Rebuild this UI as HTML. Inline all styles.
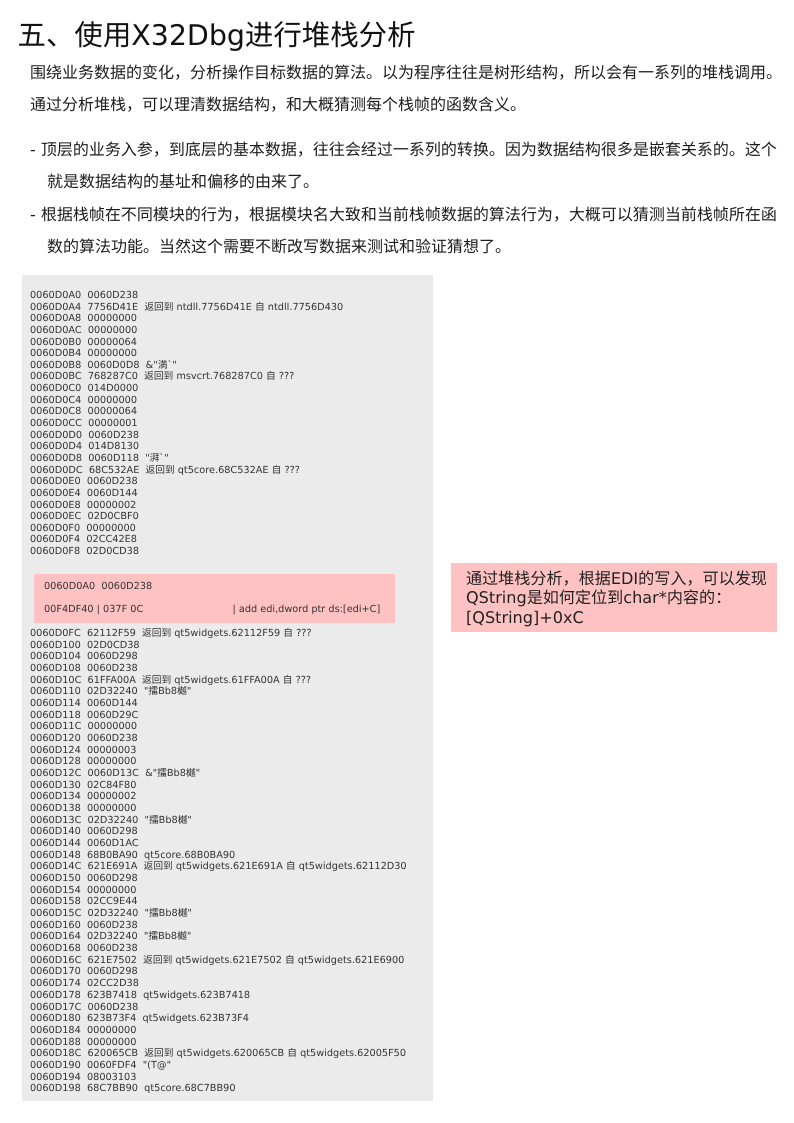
<!DOCTYPE html>
<html lang="zh"><head><meta charset="utf-8">
<style>
html,body{margin:0;padding:0;background:#fff;}
#p{position:relative;width:794px;height:1123px;overflow:hidden;font-family:"DejaVu Sans","WenQuanYi Zen Hei","Noto Sans CJK SC",sans-serif;color:#222;text-rendering:geometricPrecision;}
.a{position:absolute;white-space:pre;}
.b{font-size:16px;line-height:20px;color:#1c1c1c;}
.s{font-size:9.72px;color:#333;filter:blur(.25px);}
</style></head><body><div id="p">
<div class="a" style="left:17.5px;top:15.5px;font-size:28.45px;line-height:40px;color:#111;">五、使用X32Dbg进行堆栈分析</div>
<div class="a b" style="left:30px;top:63px;">围绕业务数据的变化，分析操作目标数据的算法。以为程序往往是树形结构，所以会有一系列的堆栈调用。</div>
<div class="a b" style="left:30px;top:95px;">通过分析堆栈，可以理清数据结构，和大概猜测每个栈帧的函数含义。</div>
<div class="a b" style="left:30px;top:140px;">- 顶层的业务入参，到底层的基本数据，往往会经过一系列的转换。因为数据结构很多是嵌套关系的。这个</div>
<div class="a b" style="left:47px;top:172px;">就是数据结构的基址和偏移的由来了。</div>
<div class="a b" style="left:30px;top:205px;">- 根据栈帧在不同模块的行为，根据模块名大致和当前栈帧数据的算法行为，大概可以猜测当前栈帧所在函</div>
<div class="a b" style="left:47px;top:237px;">数的算法功能。当然这个需要不断改写数据来测试和验证猜想了。</div>

<div class="a" style="left:22px;top:275px;width:411px;height:826px;background:#ebebeb;"></div>
<div class="a s" style="left:30px;top:290px;line-height:11.64px;">0060D0A0  0060D238
0060D0A4  7756D41E  返回到 ntdll.7756D41E 自 ntdll.7756D430
0060D0A8  00000000
0060D0AC  00000000
0060D0B0  00000064
0060D0B4  00000000
0060D0B8  0060D0D8  &amp;"満`"
0060D0BC  768287C0  返回到 msvcrt.768287C0 自 ???
0060D0C0  014D0000
0060D0C4  00000000
0060D0C8  00000064
0060D0CC  00000001
0060D0D0  0060D238
0060D0D4  014D8130
0060D0D8  0060D118  "湃`"
0060D0DC  68C532AE  返回到 qt5core.68C532AE 自 ???
0060D0E0  0060D238
0060D0E4  0060D144
0060D0E8  00000002
0060D0EC  02D0CBF0
0060D0F0  00000000
0060D0F4  02CC42E8
0060D0F8  02D0CD38</div>

<div class="a" style="left:34px;top:574px;width:361px;height:49px;background:#ffc2c2;"></div>
<div class="a s" style="left:44px;top:581px;line-height:12px;">0060D0A0  0060D238</div>
<div class="a s" style="left:44px;top:604px;line-height:12px;">00F4DF40 | 037F 0C</div>
<div class="a s" style="left:232.5px;top:604px;line-height:12px;">| add edi,dword ptr ds:[edi+C]</div>

<div class="a s" style="left:30px;top:628px;line-height:11.67px;">0060D0FC  62112F59  返回到 qt5widgets.62112F59 自 ???
0060D100  02D0CD38
0060D104  0060D298
0060D108  0060D238
0060D10C  61FFA00A  返回到 qt5widgets.61FFA00A 自 ???
0060D110  02D32240  "擂Bb8樾"
0060D114  0060D144
0060D118  0060D29C
0060D11C  00000000
0060D120  0060D238
0060D124  00000003
0060D128  00000000
0060D12C  0060D13C  &amp;"擂Bb8樾"
0060D130  02C84F80
0060D134  00000002
0060D138  00000000
0060D13C  02D32240  "擂Bb8樾"
0060D140  0060D298
0060D144  0060D1AC
0060D148  68B0BA90  qt5core.68B0BA90
0060D14C  621E691A  返回到 qt5widgets.621E691A 自 qt5widgets.62112D30
0060D150  0060D298
0060D154  00000000
0060D158  02CC9E44
0060D15C  02D32240  "擂Bb8樾"
0060D160  0060D238
0060D164  02D32240  "擂Bb8樾"
0060D168  0060D238
0060D16C  621E7502  返回到 qt5widgets.621E7502 自 qt5widgets.621E6900
0060D170  0060D298
0060D174  02CC2D38
0060D178  623B7418  qt5widgets.623B7418
0060D17C  0060D238
0060D180  623B73F4  qt5widgets.623B73F4
0060D184  00000000
0060D188  00000000
0060D18C  620065CB  返回到 qt5widgets.620065CB 自 qt5widgets.62005F50
0060D190  0060FDF4  "(T@"
0060D194  08003103
0060D198  68C7BB90  qt5core.68C7BB90</div>

<div class="a" style="left:451px;top:563px;width:326px;height:69px;background:#ffc2c2;"></div>
<div class="a" style="left:466px;top:568.5px;font-size:16.1px;line-height:19.5px;color:#222;">通过堆栈分析，根据EDI的写入，可以发现
QString是如何定位到char*内容的：
[QString]+0xC</div>
</div></body></html>
